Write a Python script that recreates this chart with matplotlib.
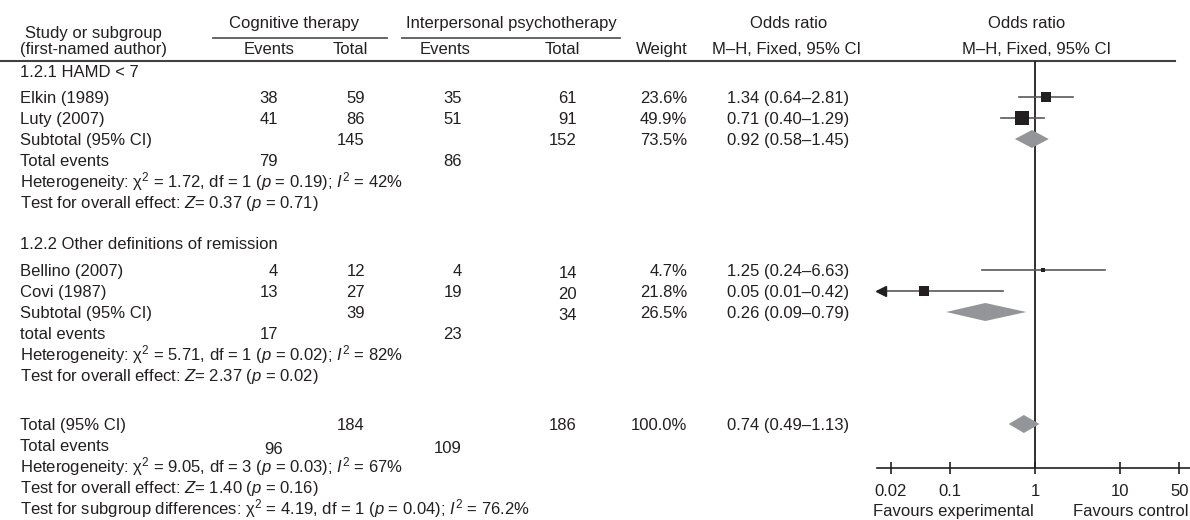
import numpy as np
import matplotlib.pyplot as plt
from matplotlib.ticker import NullLocator

plt.rcParams['font.family'] = 'Liberation Sans'
plt.rcParams['mathtext.fontset'] = 'custom'
plt.rcParams['mathtext.rm'] = 'Liberation Sans'
plt.rcParams['mathtext.it'] = 'Liberation Sans:italic'
plt.rcParams['mathtext.bf'] = 'Liberation Sans:bold'

# ---- study level data ----
studies = ["Elkin (1989)", "Luty (2007)", "Bellino (2007)", "Covi (1987)"]
study_group = [0, 0, 1, 1]
ct_events = [38, 41, 4, 13]
ct_total = [59, 86, 12, 27]
ipt_events = [35, 51, 4, 19]
ipt_total = [61, 91, 14, 20]
weights = [23.6, 49.9, 4.7, 21.8]
or_est = [1.34, 0.71, 1.25, 0.05]
or_lo = [0.64, 0.40, 0.24, 0.01]
or_hi = [2.81, 1.29, 6.63, 0.42]

# ---- subgroup summaries ----
groups = ["1.2.1 HAMD < 7", "1.2.2 Other definitions of remission"]
events_label = ["Total events", "total events"]
sub_ct_total = [145, 39]
sub_ipt_total = [152, 34]
sub_weight = [73.5, 26.5]
sub_or = [0.92, 0.26]
sub_lo = [0.58, 0.09]
sub_hi = [1.45, 0.79]
sub_ct_events = [79, 17]
sub_ipt_events = [86, 23]
het_chi2 = [1.72, 5.71]
het_df = [1, 1]
het_p = ["0.19", "0.02"]
het_i2 = ["42", "82"]
z_val = [0.37, 2.37]
z_p = ["0.71", "0.02"]

# ---- overall ----
tot_ct_total, tot_ipt_total = 184, 186
tot_weight = 100.0
tot_or, tot_lo, tot_hi = 0.74, 0.49, 1.13
tot_ct_events, tot_ipt_events = 96, 109
tot_chi2, tot_df, tot_p, tot_i2 = 9.05, 3, "0.03", "67"
tot_z, tot_zp = 1.40, "0.16"
diff_chi2, diff_df, diff_p, diff_i2 = 4.19, 1, "0.04", "76.2"

ticks = [0.02, 0.1, 1, 10, 50]
tick_labels = ["0.02", "0.1", "1", "10", "50"]

# ---- layout (pixels from top-left) ----
W, H = 1190, 520
FS = 12
TXT = '#231f20'
GREY_LINE = '#58595b'
DIAMOND = '#939598'

X_LABEL = 20
X_CT_EV, X_CT_TOT = 278, 365
X_IPT_EV, X_IPT_TOT = 462, 577
X_WEIGHT, X_OR = 687, 727

group_rows = [dict(head=71, studies=[97, 118], sub=139, ev=160, het=181, test=202),
              dict(head=243, studies=[270, 291], sub=312, ev=333, het=354, test=375)]
ROW_TOT, ROW_TOT_EV, ROW_TOT_HET, ROW_TOT_TEST, ROW_DIFF = 424, 445, 466, 487, 508

fig = plt.figure(figsize=(W / 100, H / 100), dpi=100)
tab = fig.add_axes([0, 0, 1, 1])
tab.set_xlim(0, W)
tab.set_ylim(H, 0)
tab.axis('off')


def put(x, y, s, ha='left', dy=0):
    tab.text(x, y + 6 + dy, s, ha=ha, va='baseline', fontsize=FS, color=TXT)


def het_text(chi2, df, p, i2):
    return ("Heterogeneity: \u03c7$^2$ = %.2f, df = %d ($p$ = %s); $I^2$ = %s%%"
            % (chi2, df, p, i2))


def z_text(z, p):
    return "Test for overall effect: $Z$= %.2f ($p$ = %s)" % (z, p)


def ci_text(e, lo, hi):
    return "%.2f (%.2f\u2013%.2f)" % (e, lo, hi)


# column headers
put(93, 32, "Study or subgroup", ha='center')
put(93, 48, "(first-named author)", ha='center')
put(294, 22, "Cognitive therapy", ha='center')
put(511, 22, "Interpersonal psychotherapy", ha='center')
tab.plot([213, 387], [38, 38], color=GREY_LINE, lw=1.3)
tab.plot([402, 620], [38, 38], color=GREY_LINE, lw=1.3)
put(269, 48, "Events", ha='center')
put(350, 48, "Total", ha='center')
put(445, 48, "Events", ha='center')
put(562, 48, "Total", ha='center')
put(662, 48, "Weight", ha='center')
put(789, 22, "Odds ratio", ha='center')
put(787, 48, "M\u2013H, Fixed, 95% CI", ha='center')
put(1027, 22, "Odds ratio", ha='center')
put(1037, 48, "M\u2013H, Fixed, 95% CI", ha='center')
tab.plot([0, 1175], [61, 61], color='#414042', lw=1.5)

# table body
for g, rows in enumerate(group_rows):
    put(X_LABEL, rows['head'], groups[g])
    idx = [i for i in range(len(studies)) if study_group[i] == g]
    for i, y in zip(idx, rows['studies']):
        put(X_LABEL, y, studies[i])
        put(X_CT_EV, y, str(ct_events[i]), ha='right')
        put(X_CT_TOT, y, str(ct_total[i]), ha='right')
        put(X_IPT_EV, y, str(ipt_events[i]), ha='right')
        put(X_IPT_TOT, y, str(ipt_total[i]), ha='right', dy=2 * g)
        put(X_WEIGHT, y, "%.1f%%" % weights[i], ha='right')
        put(X_OR, y, ci_text(or_est[i], or_lo[i], or_hi[i]))
    put(X_LABEL, rows['sub'], "Subtotal (95% CI)")
    put(X_CT_TOT, rows['sub'], str(sub_ct_total[g]), ha='right')
    put(X_IPT_TOT, rows['sub'], str(sub_ipt_total[g]), ha='right', dy=2 * g)
    put(X_WEIGHT, rows['sub'], "%.1f%%" % sub_weight[g], ha='right')
    put(X_OR, rows['sub'], ci_text(sub_or[g], sub_lo[g], sub_hi[g]))
    put(X_LABEL, rows['ev'], events_label[g])
    put(X_CT_EV, rows['ev'], str(sub_ct_events[g]), ha='right')
    put(X_IPT_EV, rows['ev'], str(sub_ipt_events[g]), ha='right')
    put(X_LABEL, rows['het'], het_text(het_chi2[g], het_df[g], het_p[g], het_i2[g]))
    put(X_LABEL, rows['test'], z_text(z_val[g], z_p[g]))

put(X_LABEL, ROW_TOT, "Total (95% CI)")
put(X_CT_TOT, ROW_TOT, str(tot_ct_total), ha='right')
put(X_IPT_TOT, ROW_TOT, str(tot_ipt_total), ha='right')
put(X_WEIGHT, ROW_TOT, "%.1f%%" % tot_weight, ha='right')
put(X_OR, ROW_TOT, ci_text(tot_or, tot_lo, tot_hi))
put(X_LABEL, ROW_TOT_EV, "Total events")
put(X_CT_EV + 5, ROW_TOT_EV, str(tot_ct_events), ha='right', dy=3)
put(X_IPT_EV, ROW_TOT_EV, str(tot_ipt_events), ha='right', dy=2)
put(X_LABEL, ROW_TOT_HET, het_text(tot_chi2, tot_df, tot_p, tot_i2))
put(X_LABEL, ROW_TOT_TEST, z_text(tot_z, tot_zp))
put(X_LABEL, ROW_DIFF,
    "Test for subgroup differences: \u03c7$^2$ = %.2f, df = %d ($p$ = %s); $I^2$ = %s%%"
    % (diff_chi2, diff_df, diff_p, diff_i2))

# ---- forest plot panel ----
AX_L, AX_R, AX_TOP, AX_BOT = 877, 1190, 61, 468
X_ONE, DECADE = 1035, 85
xmin = 10 ** ((AX_L - X_ONE) / DECADE)
xmax = 10 ** ((AX_R - X_ONE) / DECADE)

ax = fig.add_axes([AX_L / W, (H - AX_BOT) / H, (AX_R - AX_L) / W, (AX_BOT - AX_TOP) / H])
ax.set_xscale('log')
ax.set_xlim(xmin, xmax)
ax.set_ylim(AX_BOT, AX_TOP)
ax.patch.set_alpha(0)
for side in ['top', 'left', 'right']:
    ax.spines[side].set_visible(False)
ax.spines['bottom'].set_color(TXT)
ax.spines['bottom'].set_linewidth(1.2)
ax.set_yticks([])
ax.set_xticks(ticks)
ax.set_xticklabels(tick_labels)
ax.xaxis.set_minor_locator(NullLocator())
ax.tick_params(axis='x', direction='inout', length=9, width=1.2, color=TXT,
               labelsize=FS, labelcolor=TXT, pad=7)
ax.axvline(1, color=TXT, lw=1.3, zorder=2)

# individual studies: squares sized by weight
for g, rows in enumerate(group_rows):
    idx = [i for i in range(len(studies)) if study_group[i] == g]
    for i, y in zip(idx, rows['studies']):
        lo = max(or_lo[i], xmin)
        ax.plot([lo, or_hi[i]], [y, y], color=GREY_LINE, lw=1.2, zorder=3)
        if or_lo[i] < xmin:
            ax.plot(xmin * 1.1, y, marker='<', ms=7, color=TXT, clip_on=False, zorder=4)
        side = 1.98 * np.sqrt(weights[i]) * 0.72
        ax.plot(or_est[i], y, marker='s', ms=side, color=TXT, mew=0, zorder=4)
    ax.fill([sub_lo[g], sub_or[g], sub_hi[g], sub_or[g]],
            [rows['sub'], rows['sub'] - 9, rows['sub'], rows['sub'] + 9],
            color=DIAMOND, lw=0, zorder=3)

ax.fill([tot_lo, tot_or, tot_hi, tot_or],
        [ROW_TOT, ROW_TOT - 9, ROW_TOT, ROW_TOT + 9],
        color=DIAMOND, lw=0, zorder=3)

put(953, 510, "Favours experimental", ha='center')
put(1131, 510, "Favours control", ha='center')

fig.savefig('out.png', dpi=100)
